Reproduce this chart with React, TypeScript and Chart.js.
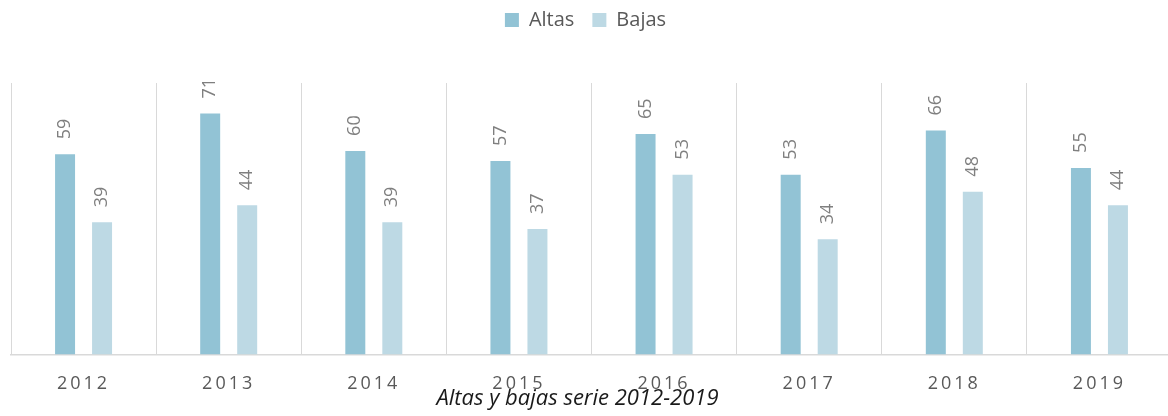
import React, { useEffect, useRef } from "react";
import { Chart, registerables } from "chart.js";

Chart.register(...registerables);

const categories = ["2012", "2013", "2014", "2015", "2016", "2017", "2018", "2019"];
const altas = [59, 71, 60, 57, 65, 53, 66, 55];
const bajas = [39, 44, 39, 37, 53, 34, 48, 44];
const chartTitle = "Altas y bajas serie 2012-2019";

const FONT = "'Open Sans', 'Noto Sans', sans-serif";

const legendSpacer = {
  id: "legendSpacer",
  beforeInit(chart: any) {
    const orig = chart.legend.fit;
    chart.legend.fit = function () {
      orig.call(this);
      this.height += 35;
    };
  },
  afterLayout(chart: any) {
    const lg = chart.legend;
    lg.left -= 6;
    lg.right -= 6;
    lg.top -= 8;
    const tb = chart.titleBlock;
    if (tb) {
      tb.left -= 14;
      tb.right -= 14;
    }
  },
};

const valueLabels = {
  id: "valueLabels",
  afterDatasetsDraw(chart: any) {
    const ctx = chart.ctx;
    ctx.save();
    ctx.font = `18px ${FONT}`;
    ctx.fillStyle = "#7f7f7f";
    ctx.textAlign = "left";
    ctx.textBaseline = "middle";
    chart.data.datasets.forEach((ds: any, di: number) => {
      const meta = chart.getDatasetMeta(di);
      meta.data.forEach((bar: any, i: number) => {
        ctx.save();
        ctx.translate(bar.x, bar.y - 15);
        ctx.rotate(-Math.PI / 2);
        ctx.fillText(String(ds.data[i]), 0, 0);
        ctx.restore();
      });
    });
    ctx.restore();
  },
};

const spacedTicks = {
  id: "spacedTicks",
  afterDraw(chart: any) {
    const ctx = chart.ctx;
    const x = chart.scales.x;
    ctx.save();
    ctx.font = `18px ${FONT}`;
    ctx.fillStyle = "#595959";
    ctx.textAlign = "center";
    ctx.textBaseline = "middle";
    try {
      (ctx as any).letterSpacing = "3px";
    } catch (e) {}
    categories.forEach((c, i) => {
      ctx.fillText(c, x.getPixelForValue(i), 384);
    });
    ctx.restore();
  },
};

export default function App() {
  const ref = useRef<HTMLCanvasElement | null>(null);
  useEffect(() => {
    if (!ref.current) return;
    const chart = new Chart(ref.current, {
      type: "bar",
      data: {
        labels: categories,
        datasets: [
          {
            label: "Altas",
            data: altas,
            backgroundColor: "#92c3d5",
            categoryPercentage: 0.51,
            barPercentage: 0.54,
          },
          {
            label: "Bajas",
            data: bajas,
            backgroundColor: "#bdd9e4",
            categoryPercentage: 0.51,
            barPercentage: 0.54,
          },
        ],
      },
      options: {
        responsive: false,
        animation: false,
        layout: { padding: { left: 11, right: 0, top: 0, bottom: 0 } },
        scales: {
          x: {
            offset: true,
            grid: {
              display: true,
              offset: true,
              color: "#d9d9d9",
              lineWidth: 1,
              drawTicks: false,
            },
            border: { display: true, color: "#d9d9d9", width: 1.5 },
            ticks: { display: false },
          },
          y: {
            display: false,
            min: 0,
            max: 80,
          },
        },
        plugins: {
          legend: {
            position: "top",
            labels: {
              font: { family: FONT, size: 20 },
              color: "#595959",
              boxWidth: 14,
              boxHeight: 14,
              padding: 18,
            },
          },
          title: {
            display: true,
            position: "bottom",
            text: chartTitle,
            font: { family: FONT, size: 22, style: "italic", weight: "normal" },
            color: "#1a1a1a",
            padding: { top: 31, bottom: 4 },
          },
          tooltip: { enabled: false },
        },
      },
      plugins: [legendSpacer, valueLabels, spacedTicks],
    });
    return () => chart.destroy();
  }, []);
  return (
    <div
      style={{
        position: "fixed",
        left: 0,
        top: 0,
        width: 1168,
        height: 416,
        overflow: "hidden",
        background: "#fff",
      }}
    >
      <canvas ref={ref} width={1172} height={416} />
    </div>
  );
}
